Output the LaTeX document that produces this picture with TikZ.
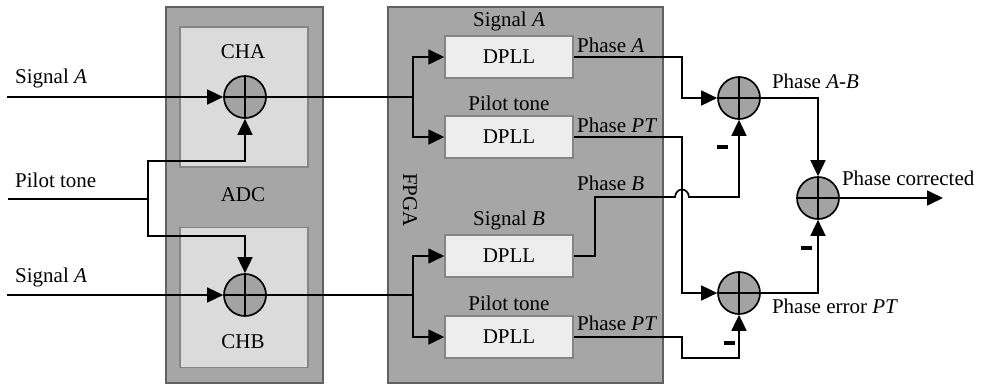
\documentclass[tikz,border=0pt]{standalone}
\usepackage{fontspec}
\setmainfont{Liberation Serif}
\usetikzlibrary{arrows.meta}
\usetikzlibrary{positioning}

\definecolor{unitgray}{gray}{0.65}
\definecolor{unitedge}{gray}{0.38}
\definecolor{changray}{gray}{0.86}
\definecolor{chanedge}{gray}{0.52}
\definecolor{dpllgray}{gray}{0.93}
\definecolor{addgray}{gray}{0.64}

\begin{document}
\begin{tikzpicture}[x=1pt,y=-1pt,line width=1.7pt,
  every node/.style={font=\fontsize{21}{25}\selectfont},
  >={Triangle[length=16pt,width=15pt]},
  unit/.style={draw=unitedge,fill=unitgray,line width=1.8pt,minimum width=157pt,minimum height=376pt,inner sep=0pt},
  chan/.style={draw=chanedge,fill=changray,line width=1.6pt,minimum width=128pt,minimum height=140pt,inner sep=0pt},
  dpll/.style={draw=chanedge,fill=dpllgray,line width=1.5pt,minimum width=128pt,minimum height=42pt,inner sep=0pt},
  adder/.style={circle,draw,fill=addgray,minimum size=42pt,inner sep=0pt,
    path picture={\draw (path picture bounding box.north) -- (path picture bounding box.south)
                        (path picture bounding box.west) -- (path picture bounding box.east);}},
  neg/.style={inner sep=0pt}
]

    % Boxes
    \useasboundingbox (0,0) rectangle (985,389);
    \node [unit] (adc) at (244.5,195) {};
    \node [chan] (cha) at (244,97) {};
    \node [chan] (chb) at (244,297.5) {};
    \node (lcha) at (243,52) {CHA};
    \node (lchb) at (243,342) {CHB};
    \node (ladc) at (243,195) {ADC};

    \node [unit,minimum width=275pt] (fpga) at (525.5,195) {};
    \node [rotate=-90] (lfpga) at (410,200) {FPGA};
    \node [dpll] (dpll1) at (509,57) {DPLL};
    \node [dpll] (dpll2) at (509,137) {DPLL};
    \node [dpll] (dpll3) at (509,256) {DPLL};
    \node [dpll] (dpll4) at (509,337) {DPLL};
    \node [above=0pt of dpll1] (ldpll1) {Signal \textit{A}};
    \node [above=0pt of dpll2] (ldpll2) {Pilot tone};
    \node [above=0pt of dpll3] (ldpll3) {Signal \textit{B}};
    \node [above=0pt of dpll4] (ldpll4) {Pilot tone};

    % Adders
    \node [adder] (suma) at (245,97) {};
    \node [adder] (sumb) at (245,295) {};
    \node [adder] (sum1) at (739,98) {};
    \node [adder] (sum2) at (818,198) {};
    \node [adder] (sum3) at (739,293) {};

    % Inputs
    \coordinate (in1) at (7,97);
    \coordinate (in2) at (8,199);
    \coordinate (in3) at (7,295);
    \node [anchor=west] (lin1) at (11,78) {Signal \textit{A}};
    \node [anchor=west] (lin2) at (11,180) {Pilot tone};
    \node [anchor=west] (lin3) at (11,277) {Signal \textit{A}};

    \coordinate (pj) at (148,199);
    \coordinate (pjt) at (148,161);
    \coordinate (pjb) at (148,236);
    \draw [->] (in1) -- (suma.west);
    \draw [->] (in3) -- (sumb.west);
    \draw (in2) -- (pj);
    \draw [->] (pj) -- (pjt) -| (suma.south);
    \draw [->] (pj) -- (pjb) -| (sumb.north);

    % ADC to FPGA
    \coordinate (ja) at (413,97);
    \coordinate (jb) at (413,295);
    \draw (suma.east) -- (ja);
    \draw [->] (ja) |- (dpll1.west);
    \draw [->] (ja) |- (dpll2.west);
    \draw (sumb.east) -- (jb);
    \draw [->] (jb) |- (dpll3.west);
    \draw [->] (jb) |- (dpll4.west);

    % Phases
    \coordinate (kx) at (682,0);
    \coordinate (bturn) at (595,197);
    \coordinate (hopl) at (675,197);
    \coordinate (hopr) at (689,197);
    \coordinate (pbot) at (682,358);
    \draw [->] (dpll1.east) -| (kx |- sum1) -- (sum1.west);
    \draw [->] (dpll2.east) -| (kx |- sum3) -- (sum3.west);
    \draw [->] (dpll3.east) -| (bturn) -- (hopl) .. controls (676,187) and (688,187) .. (hopr) -| (sum1.south);
    \draw [->] (dpll4.east) -| (pbot) -| (sum3.south);
    \node [anchor=south west] (lpha) at (573,57) {Phase \textit{A}};
    \node [anchor=south west] (lppt1) at (573,137) {Phase \textit{PT}};
    \node [anchor=south west] (lphb) at (573,195) {Phase \textit{B}};
    \node [anchor=south west] (lppt2) at (573,335) {Phase \textit{PT}};

    % Output
    \coordinate (out) at (943,198);
    \draw [->] (sum1.east) -| (sum2.north);
    \draw [->] (sum3.east) -| (sum2.south);
    \draw [->] (sum2.east) -- (out);
    \node [anchor=south west,xshift=7pt,yshift=5pt] (lab) at (sum1.east) {Phase \textit{A-B}};
    \node [anchor=south west,xshift=-2pt,yshift=8pt] (lcor) at (sum2.east) {Phase corrected};
    \node [anchor=north west,xshift=7pt,yshift=-2pt] (lerr) at (sum3.east) {Phase error \textit{PT}};

    % Minus signs
    \node [neg] (m1) at (722,147) {\rule{11pt}{3.5pt}};
    \node [neg] (m2) at (806,248) {\rule{11pt}{3.5pt}};
    \node [neg] (m3) at (729,343) {\rule{11pt}{3.5pt}};

\end{tikzpicture}
\end{document}
